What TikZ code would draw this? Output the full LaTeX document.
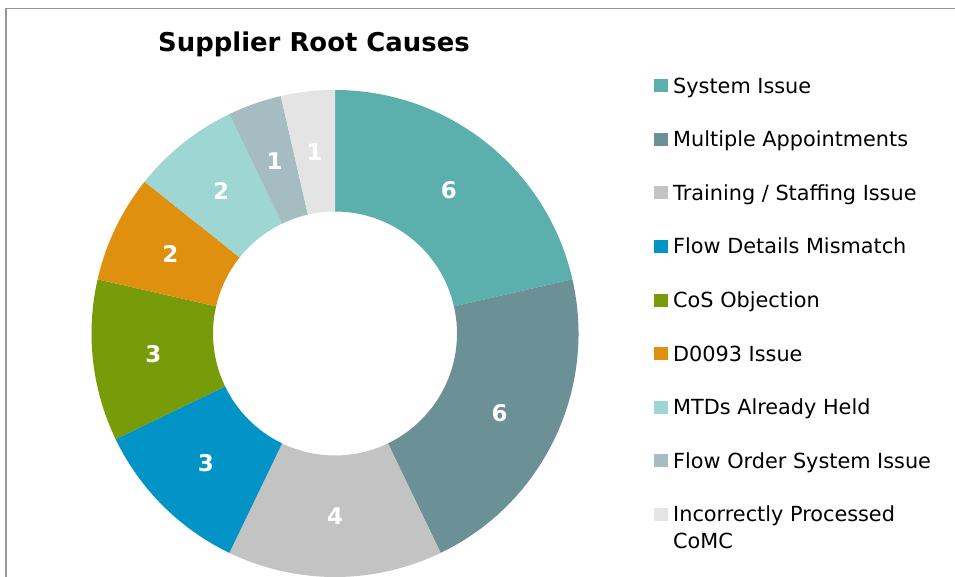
\documentclass[tikz,border=0pt]{standalone}
\usepackage{fontspec}
\setmainfont{DejaVu Sans}
\usetikzlibrary{calc}
\begin{document}
\begin{tikzpicture}[x=1pt,y=-1pt,
  val/.style={text=white,font=\fontsize{23}{23}\selectfont\bfseries,inner sep=0pt},
  legsq/.style={minimum width=14pt,minimum height=13pt,inner sep=0pt,draw=none},
  legtxt/.style={anchor=base west,inner sep=0pt,font=\fontsize{20.8}{27}\selectfont,text=black}]
\useasboundingbox (0,0) rectangle (955,577);
\fill[white] (0,0) rectangle (955,577);
\draw[color={rgb,255:red,150;green,150;blue,150},line width=1.6pt] (6,580) -- (6,8.5) -- (958,8.5);
\definecolor{cA}{HTML}{5BB0AE}
\definecolor{cB}{HTML}{6B9096}
\definecolor{cC}{HTML}{C3C3C3}
\definecolor{cD}{HTML}{0294C7}
\definecolor{cE}{HTML}{779B09}
\definecolor{cF}{HTML}{DE900E}
\definecolor{cG}{HTML}{9DD6D2}
\definecolor{cH}{HTML}{A5BDC2}
\definecolor{cI}{HTML}{E4E4E4}
\node[font=\fontsize{25.9}{26}\selectfont\bfseries,inner sep=0pt] (title) at (314,44) {Supplier Root Causes};
\coordinate (ctr) at (335,333.5);
\def\RO{243.5}
\def\RI{122}
\def\U{12.857142}
\foreach \s/\n/\c/\v in {0/6/cA/6, 6/6/cB/6, 12/4/cC/4, 16/3/cD/3, 19/3/cE/3, 22/2/cF/2, 24/2/cG/2, 26/1/cH/1, 27/1/cI/1}{
  \pgfmathsetmacro{\aS}{-90+\s*\U}
  \pgfmathsetmacro{\aE}{-90+(\s+\n)*\U}
  \pgfmathsetmacro{\aM}{(\aS+\aE)/2}
  \fill[\c] ($(ctr)+(\aS:\RO)$) arc[start angle=\aS,end angle=\aE,radius=\RO]
     -- ($(ctr)+(\aE:\RI)$) arc[start angle=\aE,end angle=\aS,radius=\RI] -- cycle;
  \node[val] at ($(ctr)+(\aM:182.75)$) {\v};
}
\foreach \y/\c/\t/\nm in {86/cA/{System Issue}/l1, 139.5/cB/{Multiple Appointments}/l2, 193/cC/{Training / Staffing Issue}/l3, 246.5/cD/{Flow Details Mismatch}/l4, 300/cE/{CoS Objection}/l5, 353.5/cF/{D0093 Issue}/l6, 407/cG/{MTDs Already Held}/l7, 460.5/cH/{Flow Order System Issue}/l8}{
  \node[legsq,fill=\c] (sq\nm) at (660.5,\y) {};
  \node[legtxt] (tx\nm) at (673,\y+7.5) {\t};
}
\node[legsq,fill=cI] (sql9) at (660.5,514) {};
\node[legtxt] (txl9) at (673,521.5) {\vtop{\hbox{Incorrectly Processed}\hbox{CoMC}}};
\end{tikzpicture}
\end{document}
